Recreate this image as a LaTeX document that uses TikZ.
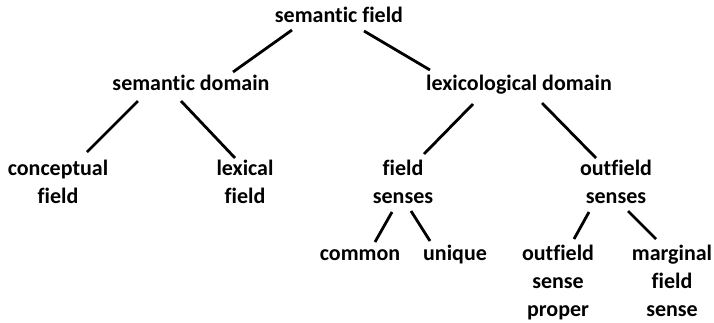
\documentclass[tikz,border=0pt]{standalone}
\usepackage{fontspec}
\setmainfont{Carlito}[Ligatures=NoCommon]
\usetikzlibrary{calc}
\begin{document}
\begin{tikzpicture}[x=1pt,y=-1pt,
  lbl/.style={font=\fontsize{22}{28}\selectfont\bfseries, align=center, anchor=base, inner sep=0pt},
  edge/.style={line width=2.8pt, black}]
\fill[white] (0,0) rectangle (714,322);
\useasboundingbox (0,0) rectangle (714,322);
% anchor=base is the baseline of the last line
\node[lbl] (sf) at (339,22) {semantic field};
\node[lbl] (sd) at (191,90) {semantic domain};
\node[lbl] (ld) at (519,90) {lexicological domain};
\node[lbl] (cf) at (58,203) {conceptual\\field};
\node[lbl] (lf) at (245,203) {lexical\\field};
\node[lbl] (fs) at (403,203) {field\\senses};
\node[lbl] (os) at (616,203) {outfield\\senses};
\node[lbl] (co) at (360,260) {common};
\node[lbl] (un) at (455,260) {unique};
\node[lbl] (osp) at (558,316) {outfield\\sense\\proper};
\node[lbl] (mfs) at (672,316) {marginal\\field\\sense};
\draw[edge] ($(sf.base)+(-47,8)$) -- ($(sd.base)+(42,-18)$);
\draw[edge] ($(sf.base)+(25,9)$) -- ($(ld.base)+(-89,-20)$);
\draw[edge] ($(sd.base)+(-53,11)$) -- ($(cf.base)+(29,-51)$);
\draw[edge] ($(sd.base)+(-10,11)$) -- ($(lf.base)+(-10,-45)$);
\draw[edge] ($(ld.base)+(-46,14)$) -- ($(fs.base)+(21,-49)$);
\draw[edge] ($(ld.base)+(23,13)$) -- ($(os.base)+(-20,-45)$);
\draw[edge] ($(fs.base)+(-11,9)$) -- ($(co.base)+(15,-18)$);
\draw[edge] ($(fs.base)+(8,8)$) -- ($(un.base)+(-25,-19)$);
\draw[edge] ($(os.base)+(-27,9)$) -- ($(osp.base)+(16,-77)$);
\draw[edge] ($(os.base)+(12,8)$) -- ($(mfs.base)+(-16,-77)$);
\end{tikzpicture}
\end{document}
